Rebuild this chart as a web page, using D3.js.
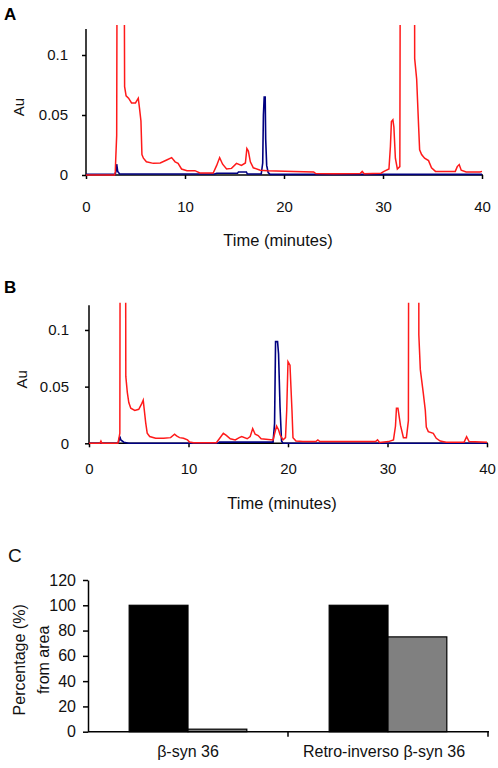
<!DOCTYPE html>
<html><head><meta charset="utf-8">
<script src="https://cdn.jsdelivr.net/npm/d3@7"></script>
<style>
body{margin:0;background:#fff;}
svg{display:block;font-family:"Liberation Sans",Arial,sans-serif;}
</style></head>
<body>
<svg id="chart" width="498" height="768"></svg>
<script>
// ---------- DATA ----------
const timeTicks = [0, 10, 20, 30, 40];
const auTicks = [0, 0.05, 0.1];
const pctTicks = [0, 20, 40, 60, 80, 100, 120];

// Panel A (time in minutes, absorbance in Au); off-scale peaks are clipped
const redA = [[0,0],[2.9,0],[2.96,0.003],[3.0,0.0125],[3.1,0.033],[3.25,0.6],[3.7,0.6],[3.9,0.0736],[4.05,0.066],[4.3,0.064],[4.6,0.06],[5.0,0.06],[5.28,0.064],[5.4,0.056],[5.55,0.045],[5.65,0.017],[5.8,0.014],[6.1,0.011],[6.8,0.0097],[7.5,0.010],[8.15,0.0125],[8.65,0.0145],[9.0,0.011],[9.3,0.0097],[9.65,0.005],[10.2,0.0036],[11.0,0.0036],[11.5,0.0017],[12.85,0.0017],[13.2,0.008],[13.5,0.0145],[13.8,0.009],[14.2,0.005],[14.7,0.0055],[15.2,0.0097],[15.7,0.008],[16.1,0.01],[16.25,0.022],[16.4,0.02],[16.6,0.011],[16.9,0.006],[17.6,0.004],[18.3,0.0035],[21,0.003],[23,0.0025],[23.2,0.0012],[25,0.001],[27.7,0.0012],[27.9,0.003],[28.1,0.001],[29.8,0.0015],[30.1,0.003],[30.6,0.005],[30.75,0.024],[30.85,0.0445],[31.0,0.046],[31.1,0.04],[31.25,0.014],[31.45,0.005],[31.7,0.007],[31.85,0.6],[33.1,0.6],[33.2,0.097],[33.4,0.08],[33.5,0.06],[33.6,0.04],[33.7,0.021],[33.9,0.017],[34.2,0.014],[34.6,0.012],[34.9,0.006],[35.3,0.003],[37.3,0.003],[37.5,0.007],[37.7,0.0087],[37.9,0.004],[38.4,0.0025],[39.8,0.0025],[40,0.003]];
const blueA = [[0,0.0005],[2.95,0.0005],[3.05,0.004],[3.1,0.009],[3.2,0.003],[3.4,0.0008],[13,0.0008],[13.2,0.0015],[15.3,0.0015],[15.4,0.0025],[16.2,0.0025],[16.3,0.0008],[17.7,0.0008],[17.85,0.01],[17.92,0.05],[18.0,0.065],[18.1,0.065],[18.15,0.03],[18.25,0.008],[18.4,0.002],[18.6,0.0005],[40,0.0005]];

// Panel B
const redB = [[0,0],[1.1,0],[1.2,0.002],[1.3,0],[2.9,0],[3.0,0.004],[3.1,0.009],[3.2,0.6],[3.6,0.6],[3.7,0.059],[3.85,0.045],[4.0,0.036],[4.2,0.031],[4.6,0.029],[5.0,0.03],[5.3,0.035],[5.45,0.038],[5.55,0.03],[5.7,0.018],[5.85,0.009],[6.1,0.006],[6.7,0.0045],[7.5,0.0045],[8.2,0.005],[8.6,0.008],[8.8,0.0065],[9.1,0.005],[9.5,0.0045],[9.9,0.003],[10.1,0.0012],[10.5,0.0005],[12.8,0.0005],[13.1,0.004],[13.5,0.0088],[13.8,0.007],[14.2,0.004],[14.7,0.003],[15.1,0.005],[15.35,0.006],[15.9,0.004],[16.2,0.006],[16.45,0.013],[16.7,0.008],[17.0,0.0068],[17.3,0.004],[18.5,0.003],[18.7,0.01],[18.85,0.0153],[19.05,0.012],[19.2,0.0075],[19.5,0.003],[19.75,0.005],[19.87,0.029],[20.0,0.072],[20.2,0.069],[20.4,0.029],[20.5,0.005],[20.8,0.002],[21.5,0.0015],[22.8,0.0015],[23,0.003],[23.2,0.0015],[28.8,0.0015],[29,0.003],[29.2,0.0008],[30.1,0.0015],[30.6,0.003],[30.8,0.015],[30.9,0.031],[31.05,0.031],[31.2,0.022],[31.3,0.016],[31.6,0.005],[31.9,0.005],[32.1,0.02],[32.2,0.6],[33.1,0.6],[33.15,0.0956],[33.3,0.065],[33.6,0.044],[33.8,0.029],[33.9,0.0143],[34.1,0.0103],[34.6,0.0088],[34.9,0.0044],[35.3,0.002],[35.9,0.001],[37.7,0.001],[37.95,0.0058],[38.2,0.0015],[40,0.001]];
const blueB = [[0,0],[2.9,0],[3.0,0.002],[3.1,0.006],[3.2,0.003],[3.5,0.001],[4.0,0],[13,0],[13.1,0.001],[18.5,0.001],[18.65,0.0176],[18.75,0.0897],[18.95,0.0897],[19.05,0.079],[19.2,0.032],[19.35,0.002],[19.5,0],[40,0]];

// Panel C
const peptides = ["β-syn 36", "Retro-inverso β-syn 36"];
const barSeries = ["before", "after"];
const beforeVals = [100, 100];
const afterVals = [2, 75];

// ---------- DRAW ----------
const svg = d3.select("#chart");
const RED = "#ff1a1a", BLUE = "#000080";
const FS = "15px";
const fmt = d => String(d);

function chromPanel(opts){
  const {x0,x1,y0,yTop,clipTop,red,blue,letter,letterY,tickPadX,tickPadY,titleY,id} = opts;
  const x = d3.scaleLinear().domain([0,40]).range([x0,x1]);
  const y = d3.scaleLinear().domain([0,0.12]).range([y0,yTop]);
  const g = svg.append("g");
  g.append("clipPath").attr("id",id).append("rect")
    .attr("x", x(-1)).attr("y", y(clipTop))
    .attr("width", x(41)-x(-1)).attr("height", y(0)-y(clipTop)+4);
  const ax = g.append("g").attr("transform",`translate(0,${y(0)})`)
    .call(d3.axisBottom(x).tickValues(timeTicks).tickFormat(fmt).tickSize(4).tickSizeOuter(0).tickPadding(tickPadX));
  const ay = g.append("g").attr("transform",`translate(${x(0)},0)`)
    .call(d3.axisLeft(y).tickValues(auTicks).tickFormat(fmt).tickSize(4).tickSizeOuter(0).tickPadding(tickPadY));
  [ax,ay].forEach(a=>{
    a.selectAll("path,line").attr("stroke","#000").attr("stroke-width",1.5);
    a.selectAll("text").attr("font-size",FS).attr("fill","#111").attr("font-family",'"Liberation Sans",Arial,sans-serif');
  });
  ay.select(".domain").attr("d",`M0,${y(0)+1}V${y(0.12)-2}`);
  ax.select(".domain").attr("d",`M${x(0)},0H${x(40)+1}`);
  const line = d3.line().x(d=>x(d[0])).y(d=>y(d[1]));
  const lines = g.append("g").attr("clip-path",`url(#${id})`);
  lines.append("path").datum(blue).attr("d",line).attr("fill","none").attr("stroke",BLUE).attr("stroke-width",1.6);
  lines.append("path").datum(red).attr("d",line).attr("fill","none").attr("stroke",RED).attr("stroke-width",1.5);
  g.append("text").attr("x", (x0+x1)/2 - 6).attr("y", titleY).attr("text-anchor","middle")
    .attr("font-size","16.5px").attr("fill","#111").text("Time (minutes)");
  g.append("text").attr("transform",`translate(${x0-62},${(y0+yTop)/2+4}) rotate(-90)`)
    .attr("text-anchor","middle").attr("font-size",FS).attr("fill","#111").text("Au");
  g.append("text").attr("x",4).attr("y",letterY).attr("font-size","17px").attr("font-weight","bold").text(letter);
}

chromPanel({x0:86,x1:482,y0:175,yTop:31,clipTop:0.125,red:redA,blue:blueA,letter:"A",letterY:20,
  tickPadX:22,tickPadY:14,titleY:246,id:"clipA"});
chromPanel({x0:89,x1:487,y0:443.3,yTop:307.3,clipTop:0.124,red:redB,blue:blueB,letter:"B",letterY:293,
  tickPadX:16,tickPadY:16,titleY:509,id:"clipB"});

// Panel C bar chart
(function(){
  const x = d3.scaleBand().domain(peptides).range([88,488]).padding(0);
  const xs = d3.scaleBand().domain(barSeries).range([0,x.bandwidth()]).paddingInner(0).paddingOuter(0.7);
  const y = d3.scaleLinear().domain([0,120]).range([731.7,580]);
  const g = svg.append("g");
  const color = {before:"#000000", after:"#808080"};
  const rows = peptides.map((p,i)=>({p, vals:[{s:"before",v:beforeVals[i]},{s:"after",v:afterVals[i]}]}));
  g.selectAll("g.grp").data(rows).join("g").attr("class","grp")
    .attr("transform",d=>`translate(${x(d.p)},0)`)
    .selectAll("rect").data(d=>d.vals).join("rect")
    .attr("x",d=>xs(d.s)).attr("width",xs.bandwidth())
    .attr("y",d=>y(d.v)).attr("height",d=>y(0)-y(d.v))
    .attr("fill",d=>color[d.s]).attr("stroke","#000").attr("stroke-width",1.2);
  const ay = g.append("g").attr("transform",`translate(88,0)`)
    .call(d3.axisLeft(y).tickValues(pctTicks).tickFormat(fmt).tickSize(5).tickSizeOuter(0).tickPadding(7));
  ay.selectAll("path,line").attr("stroke","#000").attr("stroke-width",1.5);
  ay.selectAll("text").attr("font-size","16px").attr("fill","#111").attr("font-family",'"Liberation Sans",Arial,sans-serif');
  const xa = g.append("g");
  xa.append("line").attr("x1",88).attr("x2",x.range()[1]+1).attr("y1",y(0)).attr("y2",y(0)).attr("stroke","#000").attr("stroke-width",1.5);
  const bounds = peptides.map(p=>x(p)).concat([x.range()[1]]);
  xa.selectAll("line.t").data(bounds.slice(1)).join("line").attr("class","t")
    .attr("x1",d=>d).attr("x2",d=>d).attr("y1",y(0)).attr("y2",y(0)+5).attr("stroke","#000").attr("stroke-width",1.5);
  xa.selectAll("text").data(peptides).join("text")
    .attr("x",d=>x(d)+x.bandwidth()/2 - (d.length>10?4:0)).attr("y",757).attr("text-anchor","middle")
    .attr("font-size","16px").attr("fill","#111").text(d=>d);
  const cy = (y(0)+y(120))/2 + 4;
  g.append("text").attr("transform",`translate(25,${cy}) rotate(-90)`).attr("text-anchor","middle")
    .attr("font-size","16px").attr("fill","#111").text("Percentage (%)");
  g.append("text").attr("transform",`translate(49,${cy}) rotate(-90)`).attr("text-anchor","middle")
    .attr("font-size","16px").attr("fill","#111").text("from area");
  g.append("text").attr("x",8).attr("y",562).attr("font-size","19px").attr("fill","#111").text("C");
})();
</script>
</body></html>
